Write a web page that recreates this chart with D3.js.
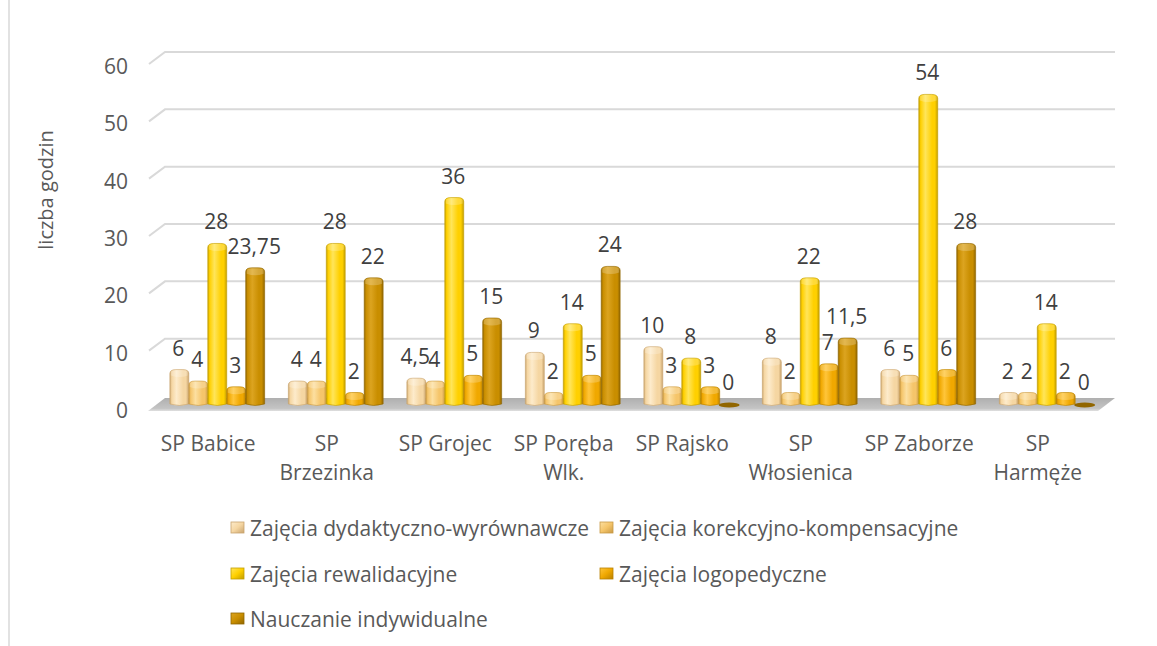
<!DOCTYPE html>
<html>
<head>
<meta charset="utf-8">
<script src="https://cdn.jsdelivr.net/npm/d3@7"></script>
<style>
  body { margin: 0; background: #fff; }
  text { font-family: "Open Sans", sans-serif; }
</style>
</head>
<body>
<svg id="chart" width="1157" height="646"></svg>
<script>
// data
const schools = ["SP Babice", "SP Brzezinka", "SP Grojec", "SP Poręba Wlk.", "SP Rajsko", "SP Włosienica", "SP Zaborze", "SP Harmęże"]
const schoolLines = [["SP Babice"], ["SP", "Brzezinka"], ["SP Grojec"], ["SP Poręba", "Wlk."], ["SP Rajsko"], ["SP", "Włosienica"], ["SP Zaborze"], ["SP", "Harmęże"]]
const seriesNames = ["Zajęcia dydaktyczno-wyrównawcze", "Zajęcia korekcyjno-kompensacyjne", "Zajęcia rewalidacyjne", "Zajęcia logopedyczne", "Nauczanie indywidualne"]
const dydaktyczne = [6, 4, 4.5, 9, 10, 8, 6, 2]
const korekcyjne = [4, 4, 4, 2, 3, 2, 5, 2]
const rewalidacyjne = [28, 28, 36, 14, 8, 22, 54, 14]
const logopedyczne = [3, 2, 5, 5, 3, 7, 6, 2]
const indywidualne = [23.75, 22, 15, 24, 0, 11.5, 28, 0]
const yTicks = [0, 10, 20, 30, 40, 50, 60]

const seriesValues = [dydaktyczne, korekcyjne, rewalidacyjne, logopedyczne, indywidualne]
// light, base, dark per series
const palette = [
  ["#FDEBCB", "#F5D6A2", "#C9A46E"],
  ["#FCDFA0", "#F5C56A", "#C99A45"],
  ["#FFE55A", "#FFD000", "#C29E00"],
  ["#FFC53A", "#F0A800", "#B98100"],
  ["#DCA420", "#C98E00", "#916600"]
]

const svg = d3.select("#chart")
const fmt = d3.formatLocale({decimal: ",", thousands: " ", grouping: [3], currency: ["", " zł"]}).format("~g")

// 3D depth offsets
const depthX = 16, depthY = 12
const barDX = 9, barDY = -4

const y = d3.scaleLinear().domain([0, 60]).range([408, 64])
const x0 = d3.scaleBand().domain(schools).range([149, 1097]).paddingInner(0.2).paddingOuter(0.1)
const x1 = d3.scaleBand().domain(d3.range(seriesNames.length)).range([0, x0.bandwidth()])

// chart border on the left
svg.append("line")
  .attr("x1", 9).attr("x2", 9).attr("y1", 0).attr("y2", 646)
  .attr("stroke", "#D9D9D9").attr("stroke-width", 1.5)

const defs = svg.append("defs")
palette.forEach((c, i) => {
  const g = defs.append("linearGradient").attr("id", "bar" + i)
    .attr("x1", "0").attr("x2", "1").attr("y1", "0").attr("y2", "0")
  g.append("stop").attr("offset", "0").attr("stop-color", c[2])
  g.append("stop").attr("offset", "0.1").attr("stop-color", c[1])
  g.append("stop").attr("offset", "0.35").attr("stop-color", c[0])
  g.append("stop").attr("offset", "0.7").attr("stop-color", c[1])
  g.append("stop").attr("offset", "0.85").attr("stop-color", c[1])
  g.append("stop").attr("offset", "1").attr("stop-color", c[2])
  const lg = defs.append("linearGradient").attr("id", "leg" + i)
    .attr("x1", "0").attr("x2", "1").attr("y1", "0").attr("y2", "1")
  lg.append("stop").attr("offset", "0").attr("stop-color", c[0])
  lg.append("stop").attr("offset", "0.5").attr("stop-color", c[1])
  lg.append("stop").attr("offset", "1").attr("stop-color", c[2])
})
const floorGrad = defs.append("linearGradient").attr("id", "floor")
  .attr("x1", "0").attr("x2", "0").attr("y1", "0").attr("y2", "1")
floorGrad.append("stop").attr("offset", "0").attr("stop-color", "#AFAFAF")
floorGrad.append("stop").attr("offset", "0.8").attr("stop-color", "#C4C4C4")
floorGrad.append("stop").attr("offset", "1").attr("stop-color", "#E0E0E0")

// gridlines (back wall + side wall)
const left = x0.range()[0], right = x0.range()[1]
const grid = svg.append("g").attr("stroke", "#D9D9D9").attr("stroke-width", 2).attr("fill", "none")
yTicks.filter(v => v > 0).forEach(v => {
  grid.append("path")
    .attr("d", `M${left},${y(v)}L${left + depthX},${y(v) - depthY}L${right + depthX + 2},${y(v) - depthY}`)
})

// floor
svg.append("path")
  .attr("d", `M${left - 1},${y(0) + 3}L${left + depthX},${y(0) - depthY + 2}L${right + depthX + 2},${y(0) - depthY + 2}L${right + 1},${y(0) + 3}Z`)
  .attr("fill", "url(#floor)")

// y tick labels
svg.append("g").selectAll("text").data(yTicks).join("text")
  .attr("x", 128).attr("y", d => y(d) + 2)
  .attr("text-anchor", "end").attr("dominant-baseline", "central")
  .attr("font-size", 21).attr("fill", "#595959")
  .text(d => d)

// axis title
svg.append("text")
  .attr("transform", "translate(45,190) rotate(-90)")
  .attr("text-anchor", "middle").attr("dominant-baseline", "central")
  .attr("font-size", 20).attr("fill", "#595959")
  .text("liczba godzin")

// bars
const w = x1.bandwidth()
function barPath(bx, top, base) {
  const r = Math.min(6, (base - top)), ry = Math.min(4, (base - top))
  return `M${bx},${base}L${bx},${top + ry}Q${bx},${top} ${bx + r},${top}` +
    `L${bx + w - r},${top}Q${bx + w},${top} ${bx + w},${top + ry}L${bx + w},${base}` +
    `Q${bx + w / 2},${base + 3} ${bx},${base}Z`
}

const barData = []
schools.forEach((s, i) => {
  seriesValues.forEach((vals, j) => {
    barData.push({school: s, series: j, value: vals[i]})
  })
})

const bars = svg.append("g")
barData.forEach(d => {
  const bx = x0(d.school) + x1(d.series) + barDX
  const base = y(0) + barDY
  const top = y(d.value) + barDY
  if (d.value === 0) {
    bars.append("ellipse")
      .attr("cx", bx + w / 2).attr("cy", base + 1)
      .attr("rx", w / 2 + 1).attr("ry", 2.5)
      .attr("fill", palette[d.series][2])
    return
  }
  bars.append("path")
    .attr("d", barPath(bx, top, base))
    .attr("fill", `url(#bar${d.series})`)
    .attr("stroke", palette[d.series][2]).attr("stroke-width", 0.6)
  // lighter rounded cap
  const capH = Math.min(6, base - top)
  bars.append("path")
    .attr("d", `M${bx + 1},${top + capH}Q${bx + w / 2},${top + capH + 3} ${bx + w - 1},${top + capH}L${bx + w - 1},${top + 3}Q${bx + w - 1},${top + 0.5} ${bx + w - 6},${top + 0.5}L${bx + 6},${top + 0.5}Q${bx + 1},${top + 0.5} ${bx + 1},${top + 3}Z`)
    .attr("fill", "#fff").attr("opacity", 0.22)
})

// data labels
svg.append("g").selectAll("text").data(barData).join("text")
  .attr("x", d => x0(d.school) + x1(d.series) + barDX + w / 2 - 1)
  .attr("y", d => y(d.value) + barDY - 22)
  .attr("text-anchor", "middle").attr("dominant-baseline", "central")
  .attr("font-size", 21).attr("fill", "#404040")
  .text(d => fmt(d.value))

// category labels
const cat = svg.append("g")
schools.forEach((s, i) => {
  const t = cat.append("text")
    .attr("x", x0(s) + x0.bandwidth() / 2)
    .attr("y", 443)
    .attr("text-anchor", "middle").attr("dominant-baseline", "central")
    .attr("font-size", 21).attr("fill", "#595959")
  schoolLines[i].forEach((line, k) => {
    t.append("tspan").attr("x", x0(s) + x0.bandwidth() / 2).attr("dy", k === 0 ? 0 : 29).text(line)
  })
})

// legend
const legendPos = [[231, 528], [600, 528], [231, 574], [600, 574], [231, 619]]
const legend = svg.append("g").selectAll("g").data(seriesNames).join("g")
  .attr("transform", (d, i) => `translate(${legendPos[i][0]},${legendPos[i][1]})`)
legend.append("rect")
  .attr("x", 0).attr("y", -6).attr("width", 13).attr("height", 11)
  .attr("fill", (d, i) => `url(#leg${i})`)
  .attr("stroke", (d, i) => palette[i][2]).attr("stroke-width", 0.8)
legend.append("text")
  .attr("x", 19).attr("y", 0)
  .attr("dominant-baseline", "central")
  .attr("font-size", 21).attr("fill", "#595959")
  .text(d => d)
</script>
</body>
</html>
